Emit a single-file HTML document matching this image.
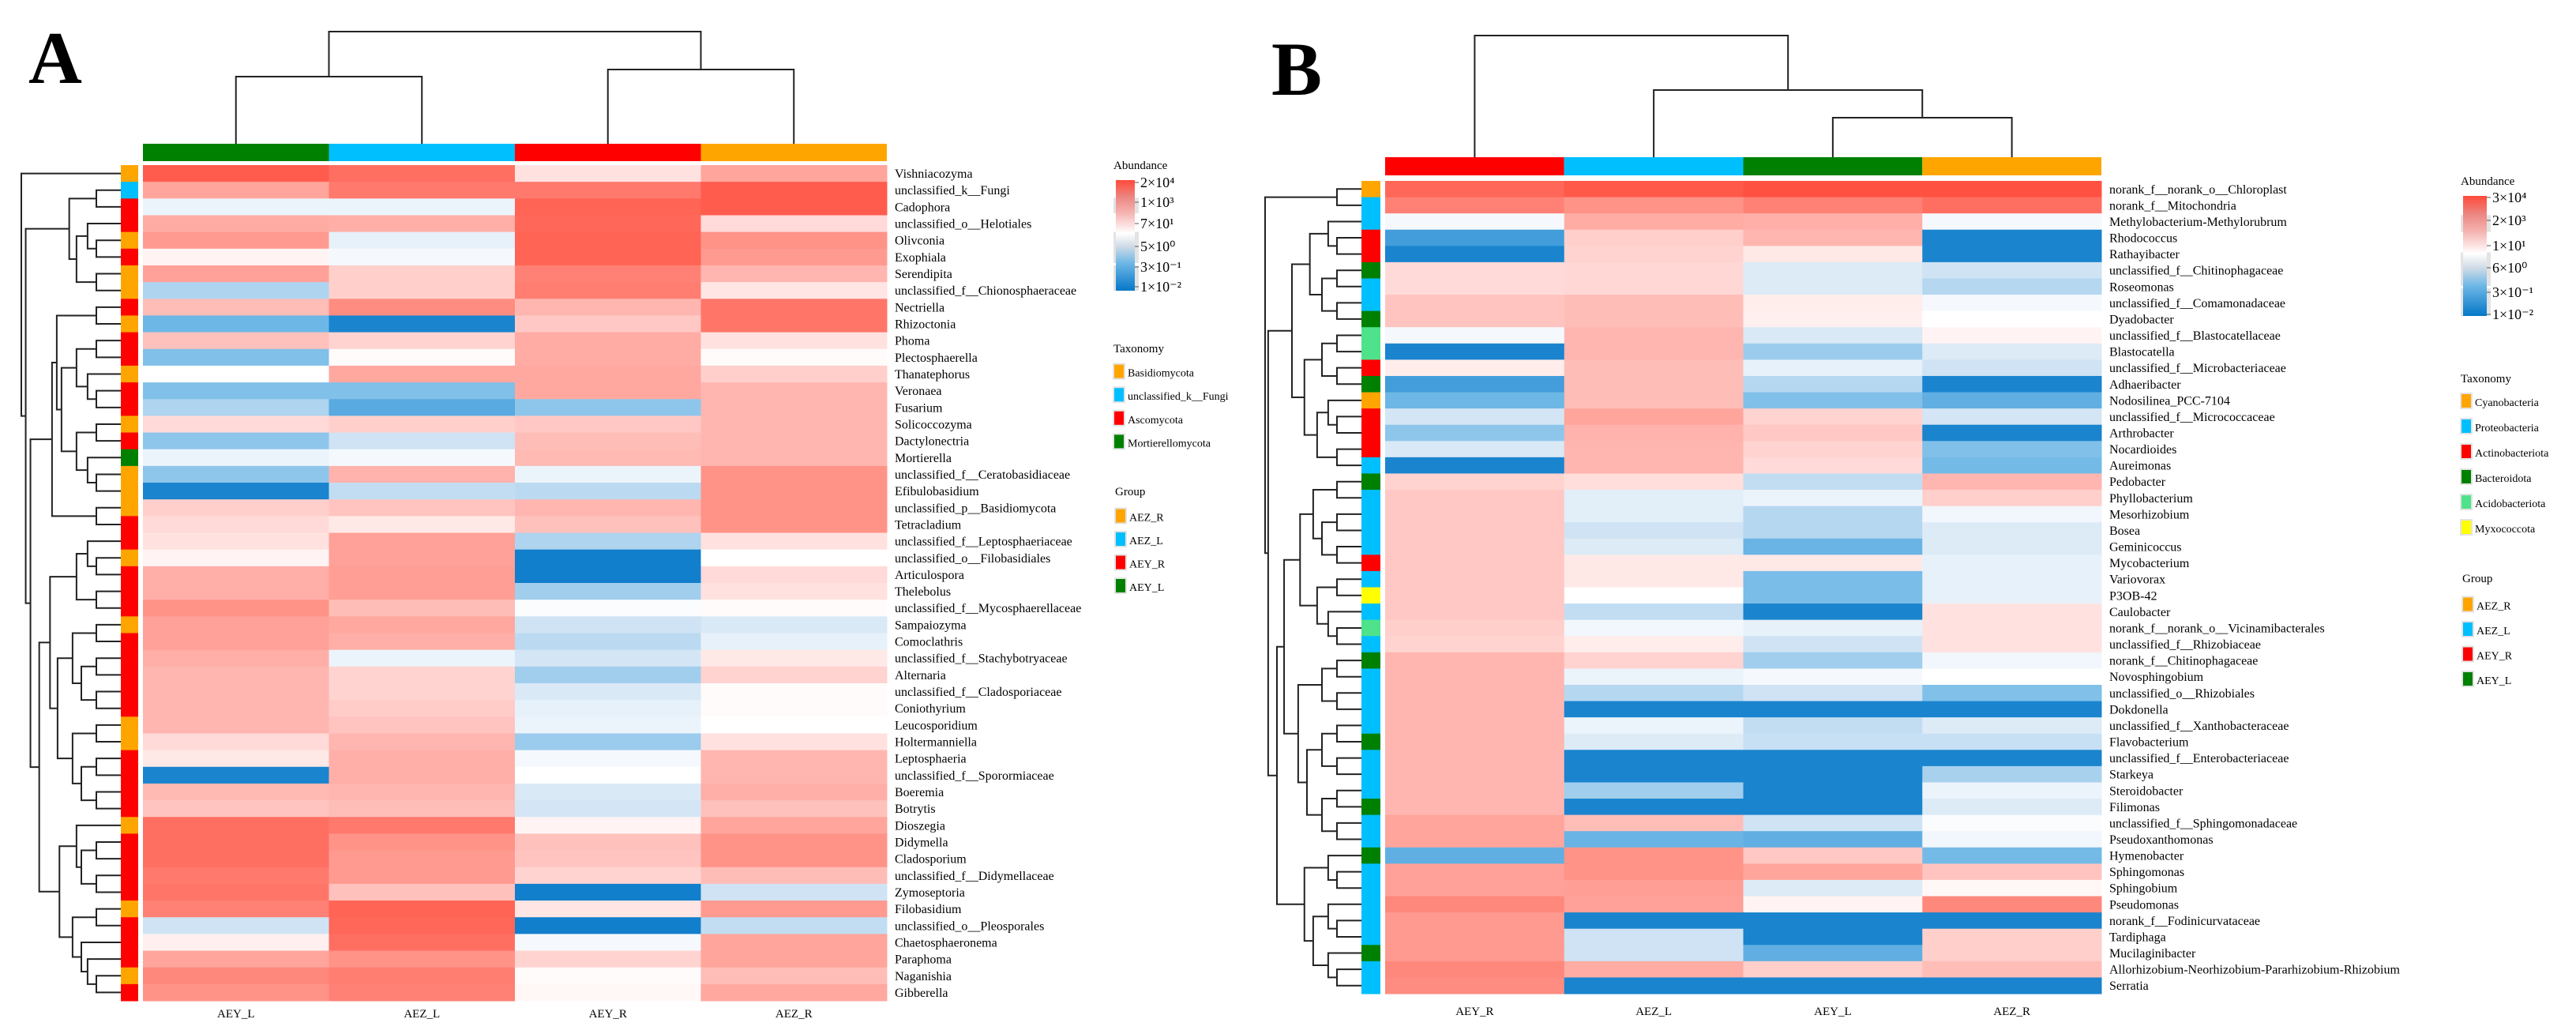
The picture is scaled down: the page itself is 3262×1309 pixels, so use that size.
<!DOCTYPE html>
<html><head><meta charset="utf-8">
<style>
html,body{margin:0;padding:0;background:#fff;}
svg{display:block;font-family:"Liberation Serif",serif;}
</style></head>
<body>
<svg id="chart" width="3262" height="1309" viewBox="0 0 3262 1309" xmlns="http://www.w3.org/2000/svg">
<defs>
<linearGradient id="cbar" x1="0" y1="1" x2="0" y2="0">
<stop offset="0" stop-color="#0577c8"/>
<stop offset="0.25" stop-color="#6db7e6"/>
<stop offset="0.4" stop-color="#cfdbe6"/>
<stop offset="0.52" stop-color="#ffffff"/>
<stop offset="0.7" stop-color="#f5b5b2"/>
<stop offset="0.85" stop-color="#ec8580"/>
<stop offset="1" stop-color="#ff4a3a"/>
</linearGradient>
</defs>
<text x="36" y="105" font-size="94" font-weight="bold">A</text>
<text x="1610" y="120" font-size="96" font-weight="bold">B</text>
</svg>
<script>
// ---------- Panel A data ----------
const aRows = ["Vishniacozyma","unclassified_k__Fungi","Cadophora","unclassified_o__Helotiales","Olivconia","Exophiala","Serendipita","unclassified_f__Chionosphaeraceae","Nectriella","Rhizoctonia","Phoma","Plectosphaerella","Thanatephorus","Veronaea","Fusarium","Solicoccozyma","Dactylonectria","Mortierella","unclassified_f__Ceratobasidiaceae","Efibulobasidium","unclassified_p__Basidiomycota","Tetracladium","unclassified_f__Leptosphaeriaceae","unclassified_o__Filobasidiales","Articulospora","Thelebolus","unclassified_f__Mycosphaerellaceae","Sampaiozyma","Comoclathris","unclassified_f__Stachybotryaceae","Alternaria","unclassified_f__Cladosporiaceae","Coniothyrium","Leucosporidium","Holtermanniella","Leptosphaeria","unclassified_f__Sporormiaceae","Boeremia","Botrytis","Dioszegia","Didymella","Cladosporium","unclassified_f__Didymellaceae","Zymoseptoria","Filobasidium","unclassified_o__Pleosporales","Chaetosphaeronema","Paraphoma","Naganishia","Gibberella"];
const aCols = ["AEY_L","AEZ_L","AEY_R","AEZ_R"];
const aColGroup = ["AEY_L","AEZ_L","AEY_R","AEZ_R"];
const aVals = [
[9.5,9,5.8,7.5],[7.5,8.7,8.7,9.5],[4.6,4.6,9.3,9.5],[7.3,7.2,9.2,6],[7.8,4.5,9.3,8],
[5.3,4.8,9.3,7.8],[7.6,6.3,8.5,7],[3.5,6.3,8.6,5.7],[6.8,8.2,7,8.8],[2.5,0.5,6.5,8.8],
[6.7,6.2,7.3,5.8],[2.8,5.1,7.3,5.1],[5,7.4,7.4,6.3],[2.8,2.8,7.4,7],[3.5,2,3,7],
[6,6.3,6.5,7],[3,4,6.8,7],[4.6,4.8,6.9,7],[3,7.1,4.6,8],[0.5,3.8,3.7,8],
[6.3,6.6,7,8],[6,5.6,6.7,8],[5.8,7.6,3.5,5.8],[5.3,7.6,0.3,5],[7.2,7.7,0.3,6],
[7.2,7.7,3.3,5.8],[8,6.8,4.9,5.1],[7.6,7.4,4,4.2],[7.6,7.2,3.7,4.5],[7.2,4.6,4.1,5.6],
[7,6.2,3.3,6.2],[7,6.2,4.2,5.1],[7,6.4,4.5,5.1],[7,6.6,4.6,5],[6,7,3.2,5.8],
[5.6,7.2,4.8,7],[0.5,7.2,5,7],[6.9,7,4.2,7.2],[6.6,6.8,4.1,6.7],[9,8.7,5.3,7.5],
[9,8,6.7,8],[9,7.8,6.6,8],[8.7,7.8,6.2,6.8],[8.8,6.7,0.3,4],[8.5,9.3,5.7,7.8],
[4,9.2,0.3,3.8],[5.4,9,4.8,7.5],[7.5,8,6.2,7.5],[8.3,8.6,5.1,6.8],[8,8.5,5.2,7.4]];
const aTax = "OCRROROORORRORRORGOOORRORRRORRRRROORRRRORRRRORRROR";
const aTaxNames = ["Basidiomycota","unclassified_k__Fungi","Ascomycota","Mortierellomycota"];
const aTaxKeys = "OCRG";
const aTicks = ["2×10⁴","1×10³","7×10¹","5×10⁰","3×10⁻¹","1×10⁻²"];
const aTree = [1,[[[2,3],[[4,[5,6]],[7,8]]],[[[[9,10],[[[11,12],[13,[14,15]]],[[16,17],[18,[19,20]]]]],[21,22]],[[[[23,[24,25]],[26,27]],[[[28,29],[[30,31],[32,33]]],[[34,35],[[36,37],[38,39]]]]],[[40,[[41,42],[43,44]]],[[45,46],[47,[48,[49,50]]]]]]]]];

// ---------- Panel B data ----------
const bRows = ["norank_f__norank_o__Chloroplast","norank_f__Mitochondria","Methylobacterium-Methylorubrum","Rhodococcus","Rathayibacter","unclassified_f__Chitinophagaceae","Roseomonas","unclassified_f__Comamonadaceae","Dyadobacter","unclassified_f__Blastocatellaceae","Blastocatella","unclassified_f__Microbacteriaceae","Adhaeribacter","Nodosilinea_PCC-7104","unclassified_f__Micrococcaceae","Arthrobacter","Nocardioides","Aureimonas","Pedobacter","Phyllobacterium","Mesorhizobium","Bosea","Geminicoccus","Mycobacterium","Variovorax","P3OB-42","Caulobacter","norank_f__norank_o__Vicinamibacterales","unclassified_f__Rhizobiaceae","norank_f__Chitinophagaceae","Novosphingobium","unclassified_o__Rhizobiales","Dokdonella","unclassified_f__Xanthobacteraceae","Flavobacterium","unclassified_f__Enterobacteriaceae","Starkeya","Steroidobacter","Filimonas","unclassified_f__Sphingomonadaceae","Pseudoxanthomonas","Hymenobacter","Sphingomonas","Sphingobium","Pseudomonas","norank_f__Fodinicurvataceae","Tardiphaga","Mucilaginibacter","Allorhizobium-Neorhizobium-Pararhizobium-Rhizobium","Serratia"];
const bCols = ["AEY_R","AEZ_L","AEY_L","AEZ_R"];
const bVals = [
[9.2,9.6,9.8,9.8],[8.5,8,8.5,9],[4.8,7.3,7.2,4.8],[1.5,6.3,7,0.5],[0.5,6.2,5.6,0.5],
[6,6.1,4.3,4],[6,6.1,4.3,3.6],[6.6,6.8,5.5,4.8],[6.6,6.8,5.4,5],[4.8,7,4.2,5.3],
[0.5,7,3.2,4.3],[5.5,6.8,4.5,4],[1.5,6.8,3.6,0.5],[2.5,6.8,2.8,2.2],[4.1,7.5,6.2,4.1],
[3,7.1,6.5,0.5],[4.2,7,6.2,2.8],[0.5,7,6,2.6],[6.2,5.9,3.8,7],[6.5,4.4,4.6,6.3],
[6.5,4.4,3.6,4.7],[6.5,4,3.6,4.3],[6.5,4.3,2.4,4.3],[6.5,5.6,5.6,4.5],[6.5,5.6,2.7,4.5],
[6.5,5,2.7,4.5],[6.5,3.8,0.5,5.8],[6.3,4.7,4.5,5.8],[6.2,5.5,4,5.8],[7,6.2,3.3,4.7],
[7,4.6,4.8,5],[7,3.6,4,2.8],[7,0.5,0.5,0.5],[7,4.6,3.8,4.3],[7,4.3,3.9,3.9],
[7,0.5,0.5,0.5],[7,0.5,0.5,3.4],[7,3.3,0.5,4.6],[7,0.5,0.5,4.3],[7.5,6.8,4,4.9],
[7.5,2.4,2.2,4.7],[2.2,8,6.5,2.6],[7.6,8,7.5,6.6],[7.6,7.7,4.3,5.2],[8.3,7.6,5.3,8.3],
[7.8,0.5,0.5,0.5],[7.8,4,0.5,6.3],[7.8,4,2.2,6.3],[8.3,7.3,6.3,6.8],[8.2,0.5,0.5,0.5]];
const bTax = "CPPRRBPPBAARBCRRRPBPPPPRPYPAPBPPPPBPPPBPPBPPPPPBPP";
const bTaxNames = ["Cyanobacteria","Proteobacteria","Actinobacteriota","Bacteroidota","Acidobacteriota","Myxococcota"];
const bTaxKeys = "CPRBAY";
const bTicks = ["3×10⁴","2×10³","1×10¹","6×10⁰","3×10⁻¹","1×10⁻²"];
const bTree = [[1,2],[[[[3,[4,5]],[[6,7],[8,9]]],[[[10,11],[12,13]],[[14,[15,16]],[17,18]]]],[[[[[19,20],[[21,22],[23,24]]],[[25,26],[27,[28,29]]]],[[[30,31],[32,33]],[[[34,35],[36,37]],[[38,39],[40,41]]]]],[[42,[43,44]],[[45,[46,47]],[48,[49,50]]]]]]];
const groupNames = ["AEZ_R","AEZ_L","AEY_R","AEY_L"];

const groupColor = {AEZ_R:"#ffa500",AEZ_L:"#00bfff",AEY_R:"#ff0000",AEY_L:"#008000"};
const aTaxColor = {O:"#ffa500",C:"#00bfff",R:"#ff0000",G:"#008000"};
const bTaxColor = {C:"#ffa500",P:"#00bfff",R:"#ff0000",B:"#008000",A:"#4ee38a",Y:"#ffff00"};

const NS="http://www.w3.org/2000/svg";
const svg=document.getElementById('chart');
function mk(tag,attrs,parent){const e=document.createElementNS(NS,tag);for(const k in attrs)e.setAttribute(k,attrs[k]);(parent||svg).appendChild(e);return e;}

const stops=[[0,[5,119,200]],[2.5,[109,183,230]],[4,[207,227,244]],[5,[255,255,255]],[6.5,[255,200,196]],[8,[255,147,136]],[10,[255,74,58]]];
function colorOf(v){v=Math.max(0,Math.min(10,v));for(let i=1;i<stops.length;i++){if(v<=stops[i][0]){const a=stops[i-1],b=stops[i];const t=(v-a[0])/(b[0]-a[0]);const c=a[1].map((x,j)=>Math.round(x+(b[1][j]-x)*t));return `rgb(${c[0]},${c[1]},${c[2]})`;}}return 'rgb(255,74,58)';}

function count(n){return typeof n==='number'?1:count(n[0])+count(n[1]);}

function drawPanel(P){
  const g=mk('g',{});
  
  
  const nR=P.rows.length,nC=P.cols.length;
  const cw=(P.x1-P.x0)/nC, rh=(P.y1-P.y0)/nR;
  const xOf=c=>P.x0+c*cw, yOf=r=>P.y0+r*rh;
  // cells
  for(let r=0;r<nR;r++)for(let c=0;c<nC;c++){
    const e=mk('rect',{x:xOf(c),y:yOf(r),width:cw+0.5,height:rh+0.5,fill:colorOf(P.vals[r][c])},g);
    
    
  }
  // column group bar
  for(let c=0;c<nC;c++){
    const e=mk('rect',{x:xOf(c),y:P.barY0,width:cw,height:P.barY1-P.barY0,fill:groupColor[P.cols[c]]},g);
    
    
    const t=mk('text',{x:xOf(c)+cw/2,y:P.colLabY,'font-size':15,'text-anchor':'middle'},g);
    t.textContent=P.cols[c];
    
    
  }
  // row taxonomy strip + labels
  for(let r=0;r<nR;r++){
    const e=mk('rect',{x:P.sx0,y:yOf(r),width:P.sx1-P.sx0,height:rh+0.5,fill:P.taxColor[P.tax[r]]},g);
    
    
    const t=mk('text',{x:P.x1+10,y:yOf(r)+rh/2+5.5,'font-size':16},g);
    t.textContent=P.rows[r];
    
    
  }
  // column dendrogram
  const cd=mk('g',{stroke:'#222','stroke-width':2,fill:'none'},g);
  
  
  P.colTree.forEach(s=>{
    mk('path',{d:`M${s[0]},${s[3]}V${s[2]}H${s[1]}V${s[4]}`},cd);
  });
  // row dendrogram
  const rd=mk('g',{stroke:'#222','stroke-width':2,fill:'none'},g);
  
  
  const leafX=P.sx0;
  function walk(n){
    if(typeof n==='number') return {y:yOf(n-1)+rh/2,x:leafX};
    const a=walk(n[0]),b=walk(n[1]);
    const sz=count(n);
    let x=leafX-P.dBase-P.dStep*Math.log2(sz);
    x=Math.min(x,Math.min(a.x,b.x)-6);
    x=Math.max(x,P.dMin);
    mk('path',{d:`M${a.x},${a.y}H${x}V${b.y}H${b.x}`},rd);
    return {x:x,y:(a.y+b.y)/2};
  }
  walk(P.tree);
  // legend: abundance
  const L=P.leg;
  let t=mk('text',{x:L.x,y:L.titleY,'font-size':15},g);t.textContent='Abundance';
  
  [[0.16,0.3],[0.47,0.75],[0.77,1]].forEach(f=>mk('rect',{x:L.x,y:L.cy0+(L.cy1-L.cy0)*f[0],width:L.cw+8,height:(L.cy1-L.cy0)*(f[1]-f[0]),fill:'#e3e3e3'},g));
  const cb=mk('rect',{x:L.x+3,y:L.cy0,width:L.cw,height:L.cy1-L.cy0,fill:'url(#cbar)'},g);
  
  P.ticks.forEach((s,i)=>{
    const y=L.ty[i];
    mk('line',{x1:L.x+3+L.cw,x2:L.x+8+L.cw,y1:y,y2:y,stroke:'#555','stroke-width':1},g);
    const tt=mk('text',{x:L.x+10+L.cw,y:y+6,'font-size':18},g);tt.textContent=s;
    
  });
  t=mk('text',{x:L.x,y:L.taxY,'font-size':15},g);t.textContent='Taxonomy';
  
  P.taxNames.forEach((nm,i)=>{
    const y=L.taxY+L.taxGap*(i+1)-4+L.taxOff;
    mk('rect',{x:L.x-1,y:y-12,width:16,height:21,fill:'#e3e3e3'},g);
    const sw=mk('rect',{x:L.x+1,y:y-10,width:12,height:17,fill:P.taxColor[P.taxKeys[i]]},g);
    
    const tt=mk('text',{x:L.x+18,y:y+5,'font-size':14},g);tt.textContent=nm;
    
  });
  t=mk('text',{x:L.x+2,y:L.grpY,'font-size':15},g);t.textContent='Group';
  
  groupNames.forEach((nm,i)=>{
    const y=L.grpY+L.grpGap*(i+1)-2;
    mk('rect',{x:L.x+1,y:y-12,width:16,height:21,fill:'#e3e3e3'},g);
    const sw=mk('rect',{x:L.x+3,y:y-10,width:12,height:17,fill:groupColor[nm]},g);
    
    const tt=mk('text',{x:L.x+20,y:y+5,'font-size':14},g);tt.textContent=nm;
    
  });
}

// Panel A
(function(){
  const x0=181,x1=1123,cw=(x1-x0)/4,c=i=>x0+cw*(i+0.5);
  drawPanel({id:'a',rows:aRows,cols:aCols,vals:aVals,tax:aTax,taxColor:aTaxColor,taxNames:aTaxNames,taxKeys:aTaxKeys,ticks:aTicks,tree:aTree,
    x0:x0,x1:x1,y0:209,y1:1267,barY0:182,barY1:204,colLabY:1288,sx0:153,sx1:175,
    dBase:12,dStep:19,dMin:27,
    colTree:[[c(0),c(1),97,182,182],[c(2),c(3),88,182,182],[(c(0)+c(1))/2,(c(2)+c(3))/2,40,97,88]],
    leg:{x:1410,titleY:214,cy0:228,cy1:368,cw:24,ty:[231,256,283,312,338,363],taxY:446,taxGap:29.6,taxOff:0,grpY:627,grpGap:29.5}});
})();
// Panel B
(function(){
  const x0=1754,x1=2661,cw=(x1-x0)/4,c=i=>x0+cw*(i+0.5);
  drawPanel({id:'b',rows:bRows,cols:bCols,vals:bVals,tax:bTax,taxColor:bTaxColor,taxNames:bTaxNames,taxKeys:bTaxKeys,ticks:bTicks,tree:bTree,
    x0:x0,x1:x1,y0:229,y1:1258,barY0:199,barY1:222,colLabY:1285,sx0:1724,sx1:1748,
    dBase:12,dStep:19,dMin:1602,
    colTree:[[c(2),c(3),149,199,199],[c(1),(c(2)+c(3))/2,114,199,149],[c(0),(c(1)+(c(2)+c(3))/2)/2,45,199,114]],
    leg:{x:3116,titleY:234,cy0:248,cy1:400,cw:30,ty:[250,279,311,339,370,398],taxY:484,taxGap:32,taxOff:-3,grpY:737,grpGap:31.5}});
})();
</script>
</body></html>
